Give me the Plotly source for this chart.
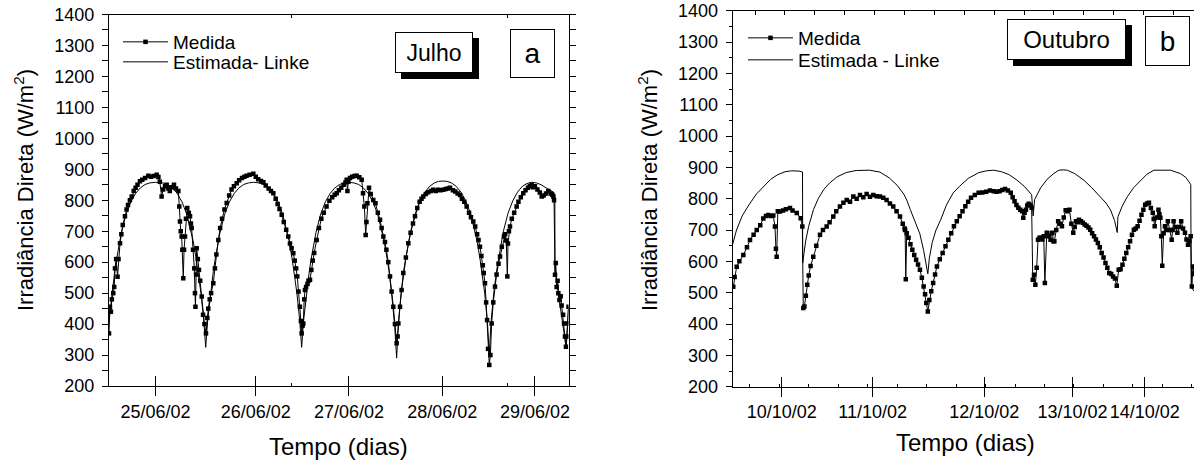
import plotly.graph_objects as go

W, H = 1194, 467

# ---------------- Panel a : Julho ----------------
tick_a_pos = [0.49, 1.544, 2.526, 3.508, 4.484]
tick_a_text = ["25/06/02", "26/06/02", "27/06/02", "28/06/02", "29/06/02"]
minor_a_pos = [1.916, 4.2]

julho_medida = [
    (0.000, 370), (0.010, 456), (0.020, 440), (0.030, 480), (0.045, 500), (0.055, 520), (0.063, 580),
    (0.075, 610), (0.090, 553), (0.100, 610), (0.116, 661), (0.130, 690), (0.145, 720), (0.168, 748),
    (0.185, 770), (0.200, 785), (0.220, 800), (0.239, 812), (0.260, 830), (0.280, 840), (0.300, 850),
    (0.326, 861), (0.350, 866), (0.380, 872), (0.414, 879), (0.440, 876), (0.470, 878), (0.502, 882),
    (0.520, 875), (0.535, 860), (0.554, 812), (0.570, 835), (0.590, 845), (0.607, 850), (0.625, 838),
    (0.640, 830), (0.660, 842), (0.684, 850), (0.705, 838), (0.730, 830), (0.740, 780), (0.747, 731),
    (0.755, 700), (0.765, 683), (0.772, 640), (0.782, 548), (0.790, 640), (0.800, 683), (0.810, 740),
    (0.824, 775), (0.840, 760), (0.853, 748), (0.862, 725), (0.870, 710), (0.885, 640), (0.898, 580),
    (0.905, 500), (0.910, 456), (0.917, 560), (0.923, 645), (0.935, 610), (0.947, 575), (0.960, 540),
    (0.976, 489), (0.990, 430), (1.005, 400), (1.021, 370),
    (1.035, 420), (1.045, 450), (1.060, 480), (1.075, 500), (1.098, 532), (1.115, 580), (1.130, 625),
    (1.151, 672), (1.170, 710), (1.190, 740), (1.215, 770), (1.239, 791), (1.265, 815), (1.290, 835),
    (1.315, 845), (1.344, 855), (1.370, 865), (1.400, 872), (1.425, 876), (1.449, 879), (1.480, 882),
    (1.519, 886), (1.545, 876), (1.570, 868), (1.600, 862), (1.625, 858), (1.650, 848), (1.680, 838),
    (1.705, 830), (1.730, 823), (1.755, 805), (1.775, 788), (1.795, 772), (1.818, 753), (1.840, 730),
    (1.865, 705), (1.887, 683), (1.905, 660), (1.922, 645), (1.940, 629), (1.955, 605), (1.970, 580),
    (1.982, 554), (1.995, 505), (2.010, 456), (2.020, 410), (2.028, 370),
    (2.038, 395), (2.045, 402), (2.055, 480), (2.063, 510), (2.075, 520), (2.090, 530), (2.100, 540),
    (2.116, 543), (2.130, 575), (2.145, 605), (2.160, 630), (2.186, 672), (2.210, 710), (2.235, 740),
    (2.260, 760), (2.290, 780), (2.320, 798), (2.350, 810), (2.375, 818), (2.397, 823), (2.420, 832),
    (2.445, 840), (2.470, 850), (2.490, 858), (2.502, 866), (2.510, 830), (2.520, 860), (2.537, 872),
    (2.560, 876), (2.585, 878), (2.607, 879), (2.635, 874), (2.660, 866), (2.674, 823), (2.688, 780),
    (2.702, 688), (2.710, 730), (2.720, 790), (2.737, 840), (2.755, 820), (2.782, 801), (2.805, 790),
    (2.830, 760), (2.853, 737), (2.870, 710), (2.888, 683), (2.905, 665), (2.920, 640), (2.940, 600),
    (2.958, 554), (2.975, 505), (2.993, 456), (3.010, 400), (3.028, 338),
    (3.038, 360), (3.046, 402), (3.063, 456), (3.080, 510), (3.098, 565), (3.125, 615), (3.151, 661),
    (3.175, 695), (3.200, 725), (3.221, 748), (3.245, 775), (3.270, 795), (3.290, 805), (3.309, 812),
    (3.335, 820), (3.360, 826), (3.390, 830), (3.414, 834), (3.440, 830), (3.465, 834), (3.490, 832),
    (3.519, 834), (3.545, 836), (3.570, 838), (3.590, 840), (3.620, 832), (3.645, 828), (3.670, 822),
    (3.695, 817), (3.715, 805), (3.740, 795), (3.765, 780), (3.790, 760), (3.810, 745), (3.835, 731),
    (3.855, 715), (3.875, 690), (3.890, 672), (3.905, 650), (3.920, 620), (3.935, 590), (3.945, 565),
    (3.958, 532), (3.970, 470), (3.980, 413), (3.990, 320), (4.003, 268),
    (4.015, 300), (4.028, 402), (4.045, 470), (4.063, 521), (4.080, 560), (4.100, 595), (4.116, 618),
    (4.135, 650), (4.158, 683), (4.170, 690), (4.182, 670), (4.193, 554), (4.200, 660), (4.210, 700),
    (4.221, 715), (4.240, 740), (4.265, 760), (4.291, 780), (4.310, 795), (4.335, 810), (4.361, 823),
    (4.385, 832), (4.410, 840), (4.430, 845), (4.449, 850), (4.465, 842), (4.484, 845), (4.510, 835),
    (4.535, 825), (4.555, 812), (4.575, 815), (4.600, 822), (4.624, 830), (4.650, 822), (4.665, 818),
    (4.677, 812), (4.685, 800), (4.695, 559), (4.703, 597), (4.712, 520), (4.722, 540), (4.730, 500),
    (4.742, 478), (4.755, 490), (4.765, 460), (4.780, 430), (4.790, 402), (4.800, 360), (4.810, 327),
    (4.820, 360), (4.830, 402), (4.837, 456),
]

julho_linke = [
    (0.000, 410), (0.030, 500), (0.060, 570), (0.080, 610), (0.113, 670), (0.130, 695), (0.180, 755),
    (0.230, 795), (0.280, 822), (0.330, 840), (0.380, 851), (0.430, 856), (0.490, 858), (0.568, 856),
    (0.618, 851), (0.668, 840), (0.718, 822), (0.768, 795), (0.818, 755), (0.868, 695), (0.885, 670),
    (0.918, 610), (0.938, 570), (0.968, 500), (0.998, 410), (1.018, 325),
    (1.038, 410), (1.068, 500), (1.098, 570), (1.118, 610), (1.151, 670), (1.168, 695), (1.218, 755),
    (1.268, 795), (1.318, 822), (1.368, 840), (1.418, 851), (1.468, 856), (1.523, 858), (1.578, 856),
    (1.628, 851), (1.678, 840), (1.728, 822), (1.778, 795), (1.828, 755), (1.878, 695), (1.895, 670),
    (1.928, 610), (1.948, 570), (1.978, 500), (2.008, 410), (2.028, 325),
    (2.048, 410), (2.078, 500), (2.108, 570), (2.128, 610), (2.161, 670), (2.178, 695), (2.228, 755),
    (2.278, 795), (2.328, 822), (2.378, 840), (2.428, 851), (2.478, 856), (2.528, 858), (2.578, 856),
    (2.628, 851), (2.678, 840), (2.728, 822), (2.778, 795), (2.828, 755), (2.878, 695), (2.895, 670),
    (2.928, 610), (2.948, 570), (2.978, 490), (3.008, 390), (3.028, 290),
    (3.045, 400), (3.075, 500), (3.105, 572), (3.125, 612), (3.158, 672), (3.175, 698), (3.225, 758),
    (3.275, 798), (3.325, 826), (3.375, 845), (3.425, 856), (3.470, 861), (3.515, 862), (3.560, 861),
    (3.605, 856), (3.655, 845), (3.705, 826), (3.755, 798), (3.805, 758), (3.855, 698), (3.872, 672),
    (3.905, 612), (3.925, 572), (3.955, 500), (3.985, 400), (4.003, 300),
    (4.020, 400), (4.050, 500), (4.080, 572), (4.100, 612), (4.133, 672), (4.150, 698), (4.200, 758),
    (4.250, 798), (4.300, 826), (4.350, 845), (4.400, 854), (4.450, 858), (4.500, 856), (4.550, 850),
    (4.600, 840), (4.650, 832), (4.680, 826), (4.693, 815), (4.695, 580), (4.720, 520), (4.750, 460),
    (4.780, 400), (4.800, 350), (4.812, 320), (4.825, 390), (4.837, 450),
]

# ---------------- Panel b : Outubro ----------------
tick_b_pos = [0.516, 1.473, 2.648, 3.577, 4.338]
tick_b_text = ["10/10/02", "11/10/02", "12/10/02", "13/10/02", "14/10/02"]

outubro_medida = [
    (0.006, 519), (0.020, 550), (0.042, 583), (0.070, 600), (0.112, 620), (0.150, 645), (0.182, 668),
    (0.220, 685), (0.253, 700), (0.290, 715), (0.322, 737), (0.350, 745), (0.375, 748), (0.400, 745),
    (0.427, 746), (0.445, 711), (0.455, 640), (0.463, 615), (0.475, 760), (0.498, 759), (0.530, 762),
    (0.560, 766), (0.603, 770), (0.630, 762), (0.674, 754), (0.716, 738), (0.733, 711), (0.743, 451),
    (0.755, 456), (0.770, 490), (0.785, 525), (0.800, 555), (0.820, 585), (0.848, 615), (0.880, 650),
    (0.919, 685), (0.950, 700), (0.989, 711), (1.020, 725), (1.059, 743), (1.090, 760), (1.129, 775),
    (1.165, 787), (1.200, 796), (1.235, 790), (1.270, 807), (1.305, 800), (1.340, 812), (1.375, 805),
    (1.410, 815), (1.445, 806), (1.480, 812), (1.515, 808), (1.550, 807), (1.585, 803), (1.620, 796),
    (1.655, 785), (1.690, 775), (1.725, 760), (1.761, 743), (1.790, 720), (1.810, 705), (1.815, 700),
    (1.822, 543), (1.832, 690), (1.851, 675), (1.871, 655), (1.891, 637), (1.911, 620), (1.931, 605),
    (1.951, 590), (1.971, 573), (1.991, 548), (2.010, 520), (2.025, 495), (2.038, 467), (2.054, 440),
    (2.070, 477), (2.090, 505), (2.110, 531), (2.130, 558), (2.150, 584), (2.180, 607), (2.210, 627),
    (2.240, 648), (2.270, 669), (2.300, 690), (2.329, 712), (2.359, 728), (2.389, 744), (2.419, 760),
    (2.449, 776), (2.479, 790), (2.509, 803), (2.549, 812), (2.589, 819), (2.628, 820), (2.668, 822),
    (2.708, 826), (2.748, 824), (2.778, 822), (2.808, 824), (2.838, 828), (2.867, 831), (2.897, 826),
    (2.927, 819), (2.947, 805), (2.967, 792), (2.987, 780), (3.007, 771), (3.027, 765), (3.047, 760),
    (3.059, 739), (3.073, 755), (3.087, 765), (3.101, 778), (3.115, 784), (3.131, 780), (3.147, 771),
    (3.159, 541), (3.172, 557), (3.186, 525), (3.200, 580), (3.214, 669), (3.230, 675), (3.246, 675),
    (3.260, 670), (3.274, 680), (3.286, 531), (3.306, 691), (3.326, 680), (3.346, 669), (3.356, 690),
    (3.366, 691), (3.376, 664), (3.386, 664), (3.406, 700), (3.426, 728), (3.446, 720), (3.466, 712),
    (3.485, 740), (3.505, 763), (3.525, 760), (3.545, 765), (3.565, 720), (3.585, 691), (3.600, 710),
    (3.613, 728), (3.633, 725), (3.645, 733), (3.665, 728), (3.685, 723), (3.705, 718), (3.725, 714),
    (3.745, 708), (3.764, 701), (3.784, 690), (3.804, 680), (3.824, 670), (3.844, 659), (3.864, 645),
    (3.884, 627), (3.904, 612), (3.924, 595), (3.944, 580), (3.964, 563), (3.984, 560), (4.004, 552),
    (4.024, 545), (4.043, 522), (4.063, 573), (4.083, 575), (4.103, 589), (4.123, 608), (4.143, 627),
    (4.163, 645), (4.183, 664), (4.203, 685), (4.223, 701), (4.243, 705), (4.263, 712), (4.283, 730),
    (4.303, 749), (4.323, 765), (4.342, 781), (4.362, 785), (4.382, 787), (4.402, 770), (4.422, 755),
    (4.432, 735), (4.442, 712), (4.462, 740), (4.482, 765), (4.492, 750), (4.502, 739), (4.512, 680),
    (4.522, 586), (4.536, 690), (4.550, 712), (4.565, 700), (4.581, 728), (4.601, 700), (4.621, 669),
    (4.631, 700), (4.641, 728), (4.661, 710), (4.681, 691), (4.701, 710), (4.721, 728), (4.741, 705),
    (4.761, 691), (4.777, 670), (4.793, 653), (4.807, 665), (4.821, 680), (4.833, 520), (4.845, 584),
    (4.853, 560),
]

outubro_linke = [
    (0.000, 655), (0.040, 700), (0.100, 745), (0.170, 780), (0.250, 815), (0.320, 838), (0.400, 862),
    (0.470, 876), (0.550, 886), (0.620, 889), (0.700, 888), (0.735, 885), (0.737, 595),
    (0.750, 625), (0.770, 668), (0.800, 712), (0.850, 765), (0.900, 800), (0.960, 830), (1.020, 850),
    (1.100, 870), (1.200, 884), (1.300, 890), (1.440, 891), (1.550, 885), (1.650, 866), (1.730, 843),
    (1.800, 815), (1.832, 796), (1.870, 765), (1.920, 728), (1.970, 688), (2.010, 635), (2.054, 560),
    (2.070, 610), (2.100, 660), (2.140, 700), (2.190, 733), (2.250, 780), (2.320, 818), (2.389, 840),
    (2.480, 865), (2.589, 883), (2.670, 889), (2.748, 891), (2.830, 886), (2.907, 877), (2.990, 860),
    (3.067, 840), (3.147, 813), (3.163, 745),
    (3.178, 797), (3.242, 835), (3.310, 862), (3.382, 881), (3.434, 891), (3.480, 892), (3.522, 891),
    (3.600, 880), (3.697, 859), (3.780, 835), (3.873, 806), (3.930, 786), (3.978, 764), (4.020, 730),
    (4.048, 692), (4.055, 742), (4.100, 776), (4.153, 806), (4.220, 835), (4.294, 859), (4.360, 878),
    (4.434, 891), (4.520, 892), (4.609, 891), (4.714, 880), (4.770, 868), (4.802, 854), (4.822, 845),
    (4.826, 519), (4.856, 505),
]

FONT = "Liberation Sans, Arial, sans-serif"


def xs(pairs):
    return [p[0] for p in pairs]


def ys(pairs):
    return [p[1] for p in pairs]


def px(p):
    return p / W


def py(p):
    return 1 - p / H


fig = go.Figure()

line_style = dict(color="black", width=1)
marker_style = dict(symbol="square", size=4.5, color="black")

# panel a
fig.add_trace(go.Scatter(x=xs(julho_linke), y=ys(julho_linke), mode="lines", line=line_style,
                         name="Estimada- Linke", xaxis="x", yaxis="y", legend="legend3"))
fig.add_trace(go.Scatter(x=xs(julho_medida), y=ys(julho_medida), mode="lines+markers", line=line_style,
                         marker=marker_style, name="Medida", xaxis="x", yaxis="y", legend="legend"))
# panel b
fig.add_trace(go.Scatter(x=xs(outubro_linke), y=ys(outubro_linke), mode="lines", line=line_style,
                         name="Estimada - Linke", xaxis="x2", yaxis="y2", legend="legend4"))
fig.add_trace(go.Scatter(x=xs(outubro_medida), y=ys(outubro_medida), mode="lines+markers", line=line_style,
                         marker=marker_style, name="Medida", xaxis="x2", yaxis="y2", legend="legend2"))

ra = [0, 4.837]
rb = [0, 4.856]
dom_ax = [px(109), px(568.5)]
dom_ay = [py(386), py(14.5)]
dom_bx = [px(732.7), 1.0]
dom_by = [py(386.7), py(10.7)]

tickfont = dict(family=FONT, size=18, color="black")

xcommon = dict(showgrid=False, zeroline=False, showline=True, linecolor="black", linewidth=1.3,
               tickmode="array", ticks="outside", ticklen=9, tickwidth=1, tickcolor="black",
               tickfont=tickfont, mirror=True, ticklabelstandoff=0, automargin=False)
ycommon = dict(range=[200, 1400], dtick=100, tick0=200, showgrid=False, zeroline=False, showline=True,
               linecolor="black", linewidth=1.3, ticks="outside", ticklen=6, tickwidth=1,
               tickcolor="black", tickfont=tickfont, ticklabelstandoff=4, automargin=False,
               minor=dict(dtick=50, ticks="outside", ticklen=3, tickcolor="black", tickwidth=1))
overlay = dict(showgrid=False, zeroline=False, showline=False, showticklabels=False, tickmode="array",
               ticks="inside", tickwidth=1, tickcolor="black", automargin=False)

legfont = dict(family=FONT, size=19, color="black")


def leg(x_text_px, y_center_px):
    return dict(x=px(x_text_px - 55), y=py(y_center_px), xanchor="left", yanchor="middle",
                bgcolor="rgba(0,0,0,0)", font=legfont, itemwidth=45, borderwidth=0)


fig.update_layout(
    template="none",
    width=W, height=H, margin=dict(l=0, r=0, t=0, b=0, pad=0, autoexpand=False),
    paper_bgcolor="white", plot_bgcolor="white",
    font=dict(family=FONT, color="black"),
    xaxis=dict(domain=dom_ax, range=ra, tickvals=tick_a_pos, ticktext=tick_a_text, anchor="y",
               minor=dict(tickmode="array", tickvals=minor_a_pos, ticks="inside", ticklen=3,
                          tickcolor="black"), **xcommon),
    yaxis=dict(domain=dom_ay, anchor="x", mirror="allticks", **ycommon),
    xaxis2=dict(domain=dom_bx, range=rb, tickvals=tick_b_pos, ticktext=tick_b_text, anchor="y2",
                minor=dict(tick0=2.042, dtick=0.31, ticks="inside", ticklen=3, tickcolor="black"),
                **xcommon),
    yaxis2=dict(domain=dom_by, anchor="x2", mirror=False, **ycommon),
    xaxis3=dict(overlaying="x", anchor="y", side="bottom", range=ra, tickvals=tick_a_pos, ticklen=10,
                **overlay),
    xaxis4=dict(overlaying="x2", anchor="y2", side="bottom", range=rb, tickvals=tick_b_pos, ticklen=10,
                **overlay),
    xaxis5=dict(overlaying="x", anchor="y", side="top", range=ra, tickvals=minor_a_pos, ticklen=3,
                **overlay),
    xaxis6=dict(overlaying="x2", anchor="y2", side="top", range=rb,
                tickvals=[0.235 + 0.3147 * k for k in range(16)], ticklen=4, **overlay),
    legend=leg(173, 42),
    legend3=leg(173, 62),
    legend2=leg(798, 38),
    legend4=leg(798, 60),
    showlegend=True,
)

# invisible traces so overlay axes are drawn
for xa, ya, r in [("x3", "y", ra), ("x4", "y2", rb), ("x5", "y", ra), ("x6", "y2", rb)]:
    fig.add_trace(go.Scatter(x=[r[0]], y=[1400], mode="markers", marker=dict(opacity=0), xaxis=xa,
                             yaxis=ya, showlegend=False, hoverinfo="skip"))

ann = []
ytitle = "Irradiância Direta (W/m<sup>2</sup>)"
center = dict(xref="paper", yref="paper", xanchor="center", yanchor="middle", showarrow=False)
ann.append(dict(text=ytitle, x=px(24), y=py(190), textangle=-90,
                font=dict(family=FONT, size=22, color="black"), **center))
ann.append(dict(text=ytitle, x=px(648), y=py(190), textangle=-90,
                font=dict(family=FONT, size=22, color="black"), **center))
ann.append(dict(text="Tempo (dias)", x=px(338), y=py(446),
                font=dict(family=FONT, size=24, color="black"), **center))
ann.append(dict(text="Tempo (dias)", x=px(965), y=py(442),
                font=dict(family=FONT, size=24, color="black"), **center))


def box(label, x0, y0, x1, y1, size, shadow):
    cx, cy = (x0 + x1) / 2, (y0 + y1) / 2
    w, h = x1 - x0, y1 - y0
    items = []
    if shadow:
        items.append(dict(text=" ", x=px(cx), y=py(cy), width=w, height=h, bgcolor="black",
                          borderwidth=0, borderpad=0, xshift=6, yshift=-6, **center))
    items.append(dict(text=label, x=px(cx), y=py(cy), width=w - 2, height=h - 2, bgcolor="white",
                      bordercolor="black", borderwidth=1, borderpad=0,
                      font=dict(family=FONT, size=size, color="black"), **center))
    return items


ann += box("Julho", 395, 32, 473, 73, 23, True)
ann += box("a", 510, 29, 555, 78, 28, False)
ann += box("Outubro", 1007, 19, 1126, 60, 24, True)
ann += box("b", 1145, 16, 1190, 66, 28, False)

fig.update_layout(annotations=ann)

fig.write_html("out.html", config={"displayModeBar": False},
               post_script="document.body.style.margin='0px';")
